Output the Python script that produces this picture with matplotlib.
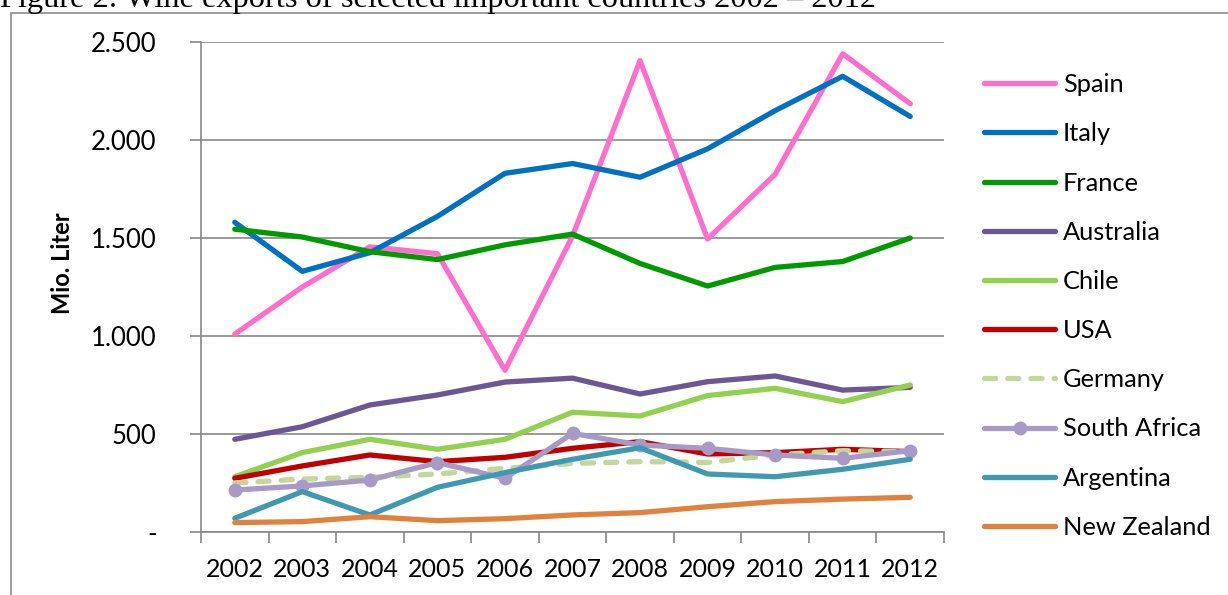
import numpy as np
import matplotlib
matplotlib.use("Agg")
import matplotlib.pyplot as plt
from matplotlib.patches import Rectangle
from matplotlib.ticker import FixedLocator, FuncFormatter

years = ["2002", "2003", "2004", "2005", "2006", "2007", "2008", "2009", "2010", "2011", "2012"]

# wine exports in million liters
spain = [1010, 1250, 1455, 1420, 825, 1510, 2405, 1495, 1825, 2440, 2185]
italy = [1580, 1330, 1425, 1610, 1830, 1880, 1810, 1955, 2150, 2325, 2120]
france = [1545, 1505, 1430, 1390, 1465, 1520, 1370, 1255, 1350, 1380, 1500]
australia = [473, 537, 648, 699, 765, 785, 704, 767, 796, 724, 738]
chile = [282, 405, 473, 422, 473, 611, 592, 696, 733, 665, 750]
usa = [274, 337, 393, 359, 381, 427, 461, 398, 405, 422, 410]
germany = [250, 270, 279, 296, 325, 350, 359, 355, 393, 415, 410]
south_africa = [214, 235, 265, 354, 274, 503, 444, 427, 393, 376, 415]
argentina = [70, 206, 87, 228, 303, 371, 430, 296, 282, 320, 371]
new_zealand = [48, 53, 78, 58, 68, 87, 99, 129, 155, 168, 177]

countries = ["Spain", "Italy", "France", "Australia", "Chile", "USA",
             "Germany", "South Africa", "Argentina", "New Zealand"]
colors = ["#FF6ECC", "#0070C0", "#009A00", "#6C5694", "#92D050", "#C00000",
          "#C3D69B", "#A89AC6", "#3F9AB0", "#E0823D"]
series = [spain, italy, france, australia, chile, usa, germany,
          south_africa, argentina, new_zealand]

plt.rcParams["font.family"] = ["Lato", "DejaVu Sans"]
grey = "#878787"

fig = plt.figure(figsize=(12.28, 5.95), dpi=100)
ax = fig.add_axes([201 / 1228, 1 - 532 / 595, 743 / 1228, 490 / 595])

x = np.arange(len(years))
for name, col, vals in zip(countries, colors, series):
    kw = dict(color=col, lw=3.8, label=name, solid_capstyle="round",
              solid_joinstyle="round")
    if name == "Germany":
        kw.update(linestyle=(0, (2.1, 2.3)), dash_capstyle="round")
    if name == "South Africa":
        kw.update(marker="o", markersize=10, markeredgewidth=0)
    ax.plot(x, vals, **kw)

ax.set_xlim(-0.5, len(years) - 0.5)
ax.set_ylim(0, 2500)
ax.set_yticks(np.arange(0, 2501, 500))
ax.yaxis.set_major_formatter(FuncFormatter(
    lambda v, p: "-" if v == 0 else f"{int(v):,}".replace(",", ".")))
ax.grid(axis="y", color=grey, lw=1.2)
ax.set_axisbelow(True)

# year labels between the category tick marks
ax.xaxis.set_major_locator(FixedLocator(np.arange(-0.5, len(years), 1)))
ax.xaxis.set_minor_locator(FixedLocator(x))
ax.set_xticklabels([], minor=False)
ax.set_xticklabels(years, minor=True)
ax.tick_params(axis="x", which="major", length=8, width=1.2, color=grey)
ax.tick_params(axis="x", which="minor", length=0, pad=19, labelsize=18)
ax.tick_params(axis="y", length=8, width=1.2, color=grey, pad=24, labelsize=18.5)

for s in ["top", "right"]:
    ax.spines[s].set_visible(False)
for s in ["left", "bottom"]:
    ax.spines[s].set_color(grey)
    ax.spines[s].set_linewidth(1.2)

fig.text(62 / 1228, 1 - 263 / 595, "Mio. Liter", rotation=90, fontsize=17,
         fontweight="bold", ha="center", va="center")

ax.legend(loc="center left", bbox_to_anchor=(984 / 1228, 1 - 306 / 595),
          bbox_transform=fig.transFigure, frameon=False, fontsize=18.3,
          handlelength=2.8, handletextpad=0.3, labelspacing=1.03,
          borderpad=0, borderaxespad=0)

# chart frame and caption above it
fig.patches.append(Rectangle((10.5 / 1228, -0.05), 1.1, 1 - 12.5 / 595 + 0.05,
                             transform=fig.transFigure, fill=False,
                             edgecolor="#8C8C8C", lw=1.2))
fig.text(0, 1 - 6.5 / 595, "Figure 2: Wine exports of selected important countries 2002 \u2013 2012",
         family="Liberation Serif", fontsize=23.3, ha="left", va="baseline")

fig.savefig("out.png", dpi=100)
